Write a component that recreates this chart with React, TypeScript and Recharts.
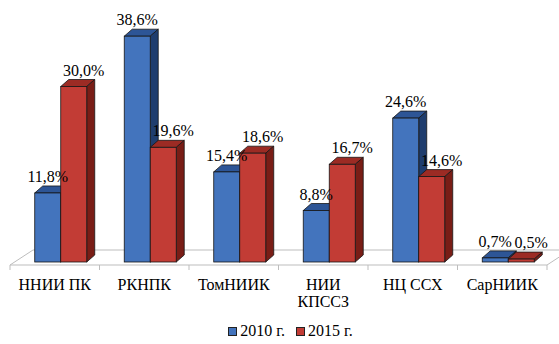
import React from "react";
import { BarChart, Bar, XAxis, YAxis, Legend, LabelList } from "recharts";

const categories = ["ННИИ ПК", "РКНПК", "ТомНИИК", "НИИ\nКПССЗ", "НЦ ССХ", "СарНИИК"];
const values2010 = [11.8, 38.6, 15.4, 8.8, 24.6, 0.7];
const values2015 = [30.0, 19.6, 18.6, 16.7, 14.6, 0.5];
const seriesNames = ["2010 г.", "2015 г."];

const data = categories.map((name, i) => ({
  name,
  y2010: values2010[i],
  y2015: values2015[i],
}));

const W = 559;
const H = 344;
const LEGEND_H = 18;
const AXIS_H = 30;
const floorY = 265;
const margin = { top: 31, right: 12, bottom: H - floorY - LEGEND_H - AXIS_H, left: 10 };
const plotL = margin.left;
const plotR = W - margin.right;
const catW = (plotR - plotL) / categories.length;

// 3d look
const DX = 8;
const DY = 7;
const SHIFT_X = 5.5;
const SHIFT_Y = 3;
const FLOOR_DX = 23;
const FLOOR_DY = 15;
const FONT = '"Times New Roman", Tinos, "Liberation Serif", "DejaVu Serif", "Noto Serif", FreeSerif, serif';

const palette = {
  blue: { front: "#4374BD", top: "#2D5596", side: "#1F3D6E" },
  red: { front: "#C23C35", top: "#9C2B24", side: "#791D16" },
};

const makeBar3D = (c: { front: string; top: string; side: string }) => (props: any) => {
  const { x, y, width, height } = props;
  if (width == null || height == null) return null;
  const fx = x + SHIFT_X;
  const fy = y - SHIFT_Y;
  const stroke = "#161616";
  return (
    <g>
      <polygon
        points={`${fx},${fy} ${fx + DX},${fy - DY} ${fx + width + DX},${fy - DY} ${fx + width},${fy}`}
        fill={c.top}
        stroke={stroke}
        strokeWidth={0.8}
        strokeLinejoin="round"
      />
      <polygon
        points={`${fx + width},${fy} ${fx + width + DX},${fy - DY} ${fx + width + DX},${fy + height - DY} ${fx + width},${fy + height}`}
        fill={c.side}
        stroke={stroke}
        strokeWidth={0.8}
        strokeLinejoin="round"
      />
      <rect x={fx} y={fy} width={width} height={height} fill={c.front} stroke={stroke} strokeWidth={0.8} />
    </g>
  );
};

const makeLabel = (dx: number) => (props: any) => {
  const { x, y, width, value } = props;
  return (
    <text
      x={x + SHIFT_X + width / 2 + dx}
      y={y - SHIFT_Y - 11}
      textAnchor="middle"
      style={{ fontFamily: FONT, fontSize: 16 }}
      fill="#000"
    >
      {value.toFixed(1).replace(".", ",")}%
    </text>
  );
};

const CategoryTick = (props: any) => {
  const { x, payload } = props;
  const lines = String(payload.value).split("\n");
  return (
    <text x={x} y={floorY + 25} textAnchor="middle" style={{ fontFamily: FONT, fontSize: 16 }} fill="#000">
      {lines.map((l, i) => (
        <tspan key={i} x={x} dy={i === 0 ? 0 : 17}>
          {l}
        </tspan>
      ))}
    </text>
  );
};

const Floor = () => {
  const ticks = [];
  for (let i = 0; i <= categories.length; i++) {
    const tx = plotL + i * catW;
    ticks.push(<line key={i} x1={tx} y1={floorY} x2={tx} y2={floorY + 5} stroke="#bdbdbd" strokeWidth={1} />);
  }
  return (
    <g>
      <polygon
        points={`${plotL},${floorY} ${plotL + FLOOR_DX},${floorY - FLOOR_DY} ${plotR + FLOOR_DX},${floorY - FLOOR_DY} ${plotR},${floorY}`}
        fill="none"
        stroke="#bdbdbd"
        strokeWidth={1}
      />
      {ticks}
    </g>
  );
};

const LegendContent = () => (
  <div
    style={{
      height: LEGEND_H,
      display: "flex",
      justifyContent: "center",
      alignItems: "center",
      fontFamily: FONT,
      fontSize: 16,
      color: "#000",
      paddingLeft: 24,
    }}
  >
    {[palette.blue, palette.red].map((c, i) => (
      <div key={i} style={{ display: "flex", alignItems: "center", marginRight: i === 0 ? 11 : 0 }}>
        <span
          style={{
            width: 7,
            height: 7,
            background: c.front,
            border: "1px solid #222",
            display: "inline-block",
            marginRight: 3,
          }}
        />
        <span>{seriesNames[i]}</span>
      </div>
    ))}
  </div>
);

export default function App() {
  return (
    <div style={{ position: "absolute", left: 0, top: 0, width: W, height: H, background: "#fff" }}>
      <BarChart width={W} height={H} data={data} margin={margin} barCategoryGap="21.5%" barGap={0}>
        <Floor />
        <XAxis dataKey="name" interval={0} height={AXIS_H} axisLine={false} tickLine={false} tick={<CategoryTick />} />
        <YAxis hide domain={[0, 40]} />
        <Legend verticalAlign="bottom" content={<LegendContent />} wrapperStyle={{ bottom: 4 }} />
        <Bar dataKey="y2010" name={seriesNames[0]} isAnimationActive={false} shape={makeBar3D(palette.blue)}>
          <LabelList dataKey="y2010" content={makeLabel(0)} />
        </Bar>
        <Bar dataKey="y2015" name={seriesNames[1]} isAnimationActive={false} shape={makeBar3D(palette.red)}>
          <LabelList dataKey="y2015" content={makeLabel(10)} />
        </Bar>
      </BarChart>
    </div>
  );
}
